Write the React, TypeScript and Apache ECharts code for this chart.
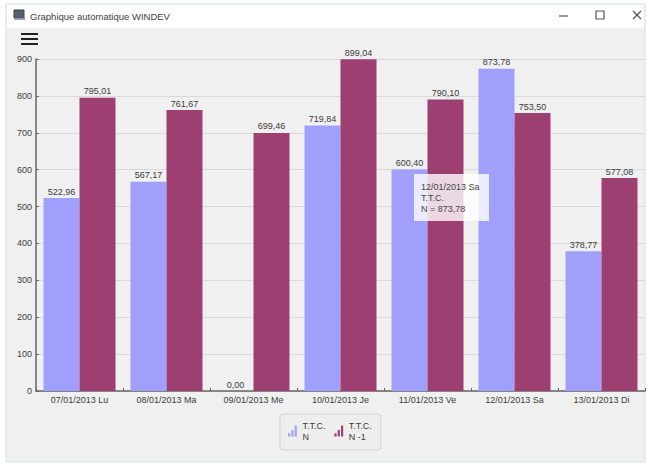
import React, { useEffect, useRef } from "react";
import * as echarts from "echarts";

const categories = ["07/01/2013 Lu", "08/01/2013 Ma", "09/01/2013 Me", "10/01/2013 Je", "11/01/2013 Ve", "12/01/2013 Sa", "13/01/2013 Di"];
const seriesN = [522.96, 567.17, 0, 719.84, 600.4, 873.78, 378.77];
const seriesN1 = [795.01, 761.67, 699.46, 899.04, 790.1, 753.5, 577.08];
const nameN = "T.T.C.\nN";
const nameN1 = "T.T.C.\nN -1";
const windowTitle = "Graphique automatique WINDEV";
const tooltipLines = "12/01/2013 Sa\nT.T.C.\nN = 873,78";

const FONT = "'Liberation Sans', Arial, sans-serif";
const TEXT = "#3c3c3c";
const barsIcon = "path://M0,10H2V7H0ZM3,10H5V4H3ZM6,10H8V0H6Z";
const fmt = (p: any) => Number(p.value).toFixed(2).replace(".", ",");
const label = { show: true, position: "top", distance: 2, color: TEXT, fontSize: 9, fontFamily: FONT, formatter: fmt };

export default function App() {
  const ref = useRef<HTMLDivElement>(null);
  useEffect(() => {
    document.body.style.margin = "0";
    const chart = echarts.init(ref.current!, null, { renderer: "svg" });
    chart.setOption({
      animation: false,
      backgroundColor: "#ffffff",
      grid: { left: 36, right: 5, top: 59, bottom: 77, containLabel: false },
      xAxis: {
        type: "category",
        data: categories,
        axisLine: { lineStyle: { color: "#666666", width: 1.5 } },
        axisTick: { show: true, inside: true, length: 3, lineStyle: { color: "#666666" } },
        axisLabel: { color: TEXT, fontSize: 9, fontFamily: FONT, margin: 4 },
      },
      yAxis: {
        type: "value",
        min: 0,
        max: 900,
        interval: 100,
        axisLine: { show: true, lineStyle: { color: "#666666", width: 1.5 } },
        axisTick: { show: true, inside: true, length: 3, lineStyle: { color: "#666666" } },
        axisLabel: { color: TEXT, fontSize: 9, fontFamily: FONT, margin: 4 },
        splitLine: { show: true, lineStyle: { color: "#d9d9d9", width: 1 } },
      },
      legend: {
        left: 280,
        top: 414,
        width: 103,
        orient: "horizontal",
        padding: [6, 9, 8, 8],
        itemGap: 9,
        itemWidth: 10,
        itemHeight: 11,
        borderColor: "#d4d4d4",
        borderWidth: 1,
        borderRadius: 3,
        backgroundColor: "#eeeeee",
        textStyle: { color: TEXT, fontSize: 9, fontFamily: FONT, lineHeight: 11 },
        data: [
          { name: nameN, icon: barsIcon },
          { name: nameN1, icon: barsIcon },
        ],
      },
      series: [
        { type: "bar", name: nameN, data: seriesN, barWidth: 36, barGap: 0, itemStyle: { color: "#a0a0fc" }, label, z: 2 },
        { type: "bar", name: nameN1, data: seriesN1, barWidth: 36, barGap: 0, itemStyle: { color: "#9e3f72" }, label, z: 2 },
      ],
      graphic: [
        // window frame, behind the chart
        { type: "rect", z: -10, silent: true, shape: { x: 6, y: 4, width: 639, height: 458 }, style: { fill: "#f0f0f0", stroke: "#cfe3f3", lineWidth: 1 } },
        { type: "rect", z: -9, silent: true, shape: { x: 7, y: 5, width: 637, height: 23 }, style: { fill: "#ffffff" } },
        // title bar
        { type: "rect", silent: true, shape: { x: 14, y: 10, width: 10, height: 8 }, style: { fill: "#5a5f70", stroke: "#3c4050", lineWidth: 1 } },
        { type: "rect", silent: true, shape: { x: 14, y: 18, width: 11, height: 2 }, style: { fill: "#9aa0b0" } },
        { type: "text", silent: true, style: { x: 30, y: 16, text: windowTitle, fill: "#404040", fontSize: 9.5, fontFamily: FONT, verticalAlign: "middle" } },
        { type: "line", silent: true, shape: { x1: 559, y1: 16, x2: 568, y2: 16 }, style: { stroke: "#555555", lineWidth: 1.2 } },
        { type: "rect", silent: true, shape: { x: 596, y: 11, width: 8, height: 8 }, style: { fill: "none", stroke: "#555555", lineWidth: 1.2 } },
        { type: "line", silent: true, shape: { x1: 633, y1: 11, x2: 641, y2: 19 }, style: { stroke: "#555555", lineWidth: 1.2 } },
        { type: "line", silent: true, shape: { x1: 641, y1: 11, x2: 633, y2: 19 }, style: { stroke: "#555555", lineWidth: 1.2 } },
        // hamburger
        { type: "rect", silent: true, shape: { x: 21, y: 33, width: 17, height: 2 }, style: { fill: "#222222" } },
        { type: "rect", silent: true, shape: { x: 21, y: 38, width: 17, height: 2 }, style: { fill: "#222222" } },
        { type: "rect", silent: true, shape: { x: 21, y: 43, width: 17, height: 2 }, style: { fill: "#222222" } },
        // tooltip
        { type: "rect", silent: true, z: 20, shape: { x: 414, y: 174, width: 75, height: 47 }, style: { fill: "rgba(255,255,255,0.8)" } },
        { type: "text", silent: true, z: 21, style: { x: 421, y: 181, text: tooltipLines, fill: "#444444", fontSize: 9, lineHeight: 11, fontFamily: FONT } },
      ],
    });
    return () => chart.dispose();
  }, []);
  return <div ref={ref} style={{ width: 650, height: 468 }} />;
}
